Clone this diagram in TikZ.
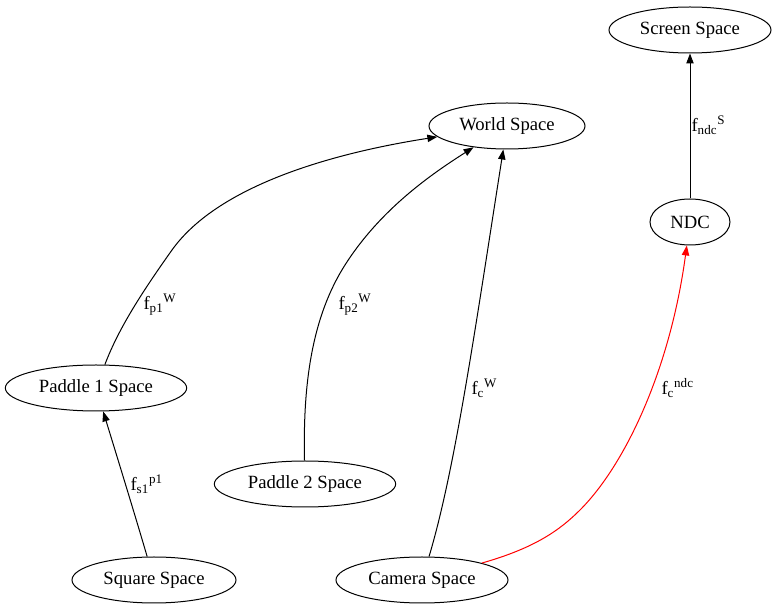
\documentclass[tikz,border=0pt]{standalone}
\usepackage{fontspec}
\setmainfont{Liberation Serif}
\usetikzlibrary{shapes.geometric,arrows.meta}
\begin{document}
\begin{tikzpicture}[x=0.75pt,y=-0.75pt,line width=0.75pt,
    space/.style={draw,ellipse,inner sep=0pt,minimum height=34.5pt,font=\fontsize{14}{16}\selectfont},
    lbl/.style={anchor=west,inner sep=0pt,font=\fontsize{14}{16}\selectfont},
    -{Triangle[length=7.5pt,width=5.5pt]}]
  \useasboundingbox (0,0) rectangle (776,609);

  \node[space,minimum width=121.5pt] (screen) at (690,30) {Screen Space};
  \node[space,minimum width=117pt] (world) at (507,126) {World Space};
  \node[space,minimum width=60pt] (ndc) at (690,222) {NDC};
  \node[space,minimum width=136pt] (paddle1) at (96,388) {Paddle 1 Space};
  \node[space,minimum width=136pt] (paddle2) at (305,484) {Paddle 2 Space};
  \node[space,minimum width=123pt] (square) at (154,580) {Square Space};
  \node[space,minimum width=129pt] (camera) at (422,580) {Camera Space};

  \draw (paddle1) .. controls (118,330) and (140,295) .. (172,250)
    .. controls (220,183) and (340,152) .. (world);
  \draw (paddle2) .. controls (303,390) and (310,320) .. (345,265)
    .. controls (380,210) and (430,175) .. (world);
  \draw (camera) .. controls (455,470) and (475,330) .. (world);
  \draw[red] (camera) .. controls (535,548) and (560,530) .. (580,510)
    .. controls (625,465) and (670,370) .. (ndc);
  \draw (ndc) -- (screen);
  \draw (square) .. controls (135,515) and (115,450) .. (paddle1);

  \node[lbl] (lp1) at (143,305) {f\textsubscript{p1}\textsuperscript{W}};
  \node[lbl] (lp2) at (338,305) {f\textsubscript{p2}\textsuperscript{W}};
  \node[lbl] (lcw) at (471,388) {f\textsubscript{c}\textsuperscript{W}};
  \node[lbl] (lcndc) at (661,388) {f\textsubscript{c}\textsuperscript{ndc}};
  \node[lbl] (lndcs) at (691,125) {f\textsubscript{ndc}\textsuperscript{S}};
  \node[lbl] (ls1) at (130,484) {f\textsubscript{s1}\textsuperscript{p1}};
\end{tikzpicture}
\end{document}
